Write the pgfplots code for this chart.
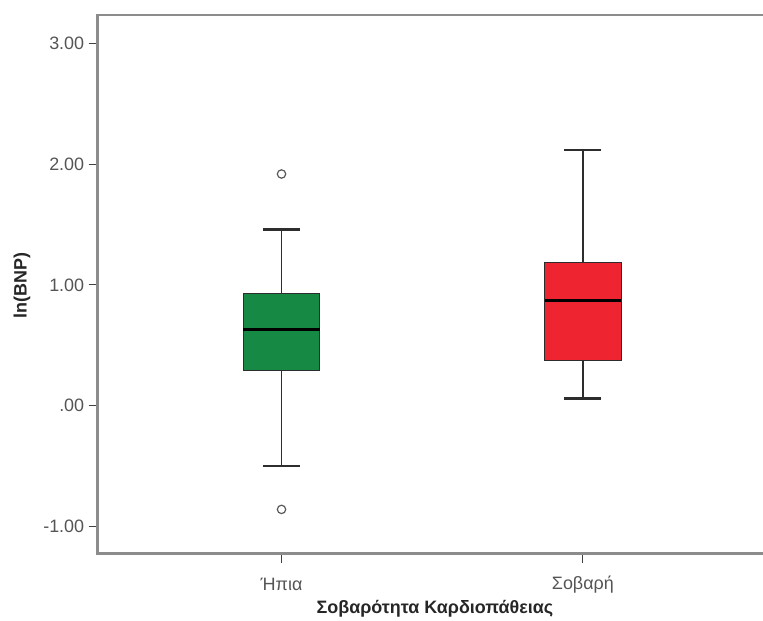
\documentclass[border=0pt]{standalone}
\usepackage{fontspec}
\setmainfont{Liberation Sans}
\usepackage{pgfplots}
\pgfplotsset{compat=1.18}
\usepgfplotslibrary{statistics}

\definecolor{boxgreen}{RGB}{22,137,68}
\definecolor{boxred}{RGB}{238,36,48}
\definecolor{framegray}{RGB}{140,140,140}
\definecolor{ticktext}{RGB}{85,85,85}
\definecolor{whiskergray}{RGB}{45,45,45}

\pgfplotsset{
  spss box/.style={
    boxplot/draw direction=y,
    boxplot/box extend=0.2545,
    boxplot/whisker extend=0.122,
    boxplot/every box/.style={draw=whiskergray, line width=1bp},
    boxplot/every median/.style={draw=black, line width=3bp},
    boxplot/draw/lower whisker/.code={%
      \draw[whiskergray, line width=1.4bp]
        (boxplot cs:\pgfplotsboxplotvalue{lower whisker})
        -- (boxplot cs:\pgfplotsboxplotvalue{lower quartile});
      \draw[whiskergray, line width=2.6bp]
        (boxplot whisker cs:\pgfplotsboxplotvalue{lower whisker},0)
        -- (boxplot whisker cs:\pgfplotsboxplotvalue{lower whisker},1);
    },
    boxplot/draw/upper whisker/.code={%
      \draw[whiskergray, line width=1.4bp]
        (boxplot cs:\pgfplotsboxplotvalue{upper whisker})
        -- (boxplot cs:\pgfplotsboxplotvalue{upper quartile});
      \draw[whiskergray, line width=2.6bp]
        (boxplot whisker cs:\pgfplotsboxplotvalue{upper whisker},0)
        -- (boxplot whisker cs:\pgfplotsboxplotvalue{upper whisker},1);
    },
    mark=o,
    mark size=4.2bp,
    mark options={draw=black!65, fill=white, line width=1.2bp},
  },
}

\begin{document}
\begin{tikzpicture}
\begin{axis}[
  scale only axis,
  width=669bp, height=538.5bp,
  xmin=0.39, xmax=2.61,
  ymin=-1.223, ymax=3.234,
  axis line style={draw=framegray, line width=2.6bp},
  xtick={1,2},
  xticklabels={Ήπια, Σοβαρή},
  ytick={-1,0,1,2,3},
  yticklabels={-1.00, .00, 1.00, 2.00, 3.00},
  tick align=outside,
  tick style={draw=black!75, line width=1bp},
  major tick length=9bp,
  xtick pos=bottom, ytick pos=left,
  tick label style={font=\fontsize{18}{21}\selectfont, text=ticktext},
  xticklabel style={anchor=center, yshift=-22bp},
  yticklabel style={anchor=east, xshift=-1bp},
  xlabel={Σοβαρότητα Καρδιοπάθειας},
  ylabel={ln(BNP)},
  label style={font=\fontsize{18}{21}\selectfont\bfseries, text=black!85},
  xlabel style={at={(axis description cs:0.504,-0.103)}, anchor=center},
  ylabel style={at={(axis description cs:-0.1132,0.497)}, anchor=center},
  clip=false,
]
% Ήπια
\addplot+[spss box, fill=boxgreen,
  boxplot prepared={draw position=1,
    lower whisker=-0.499, lower quartile=0.290, median=0.627,
    upper quartile=0.930, upper whisker=1.460}]
  table[row sep=\\, y index=0] {v\\ 1.918\\ -0.858\\};
% Σοβαρή
\addplot+[spss box, fill=boxred,
  boxplot prepared={draw position=2,
    lower whisker=0.061, lower quartile=0.378, median=0.869,
    upper quartile=1.184, upper whisker=2.117}]
  coordinates {};
\end{axis}
\pgfresetboundingbox
\useasboundingbox (-97.7bp,-67.5bp) rectangle (665.3bp,553.5bp);
\end{tikzpicture}
\end{document}
